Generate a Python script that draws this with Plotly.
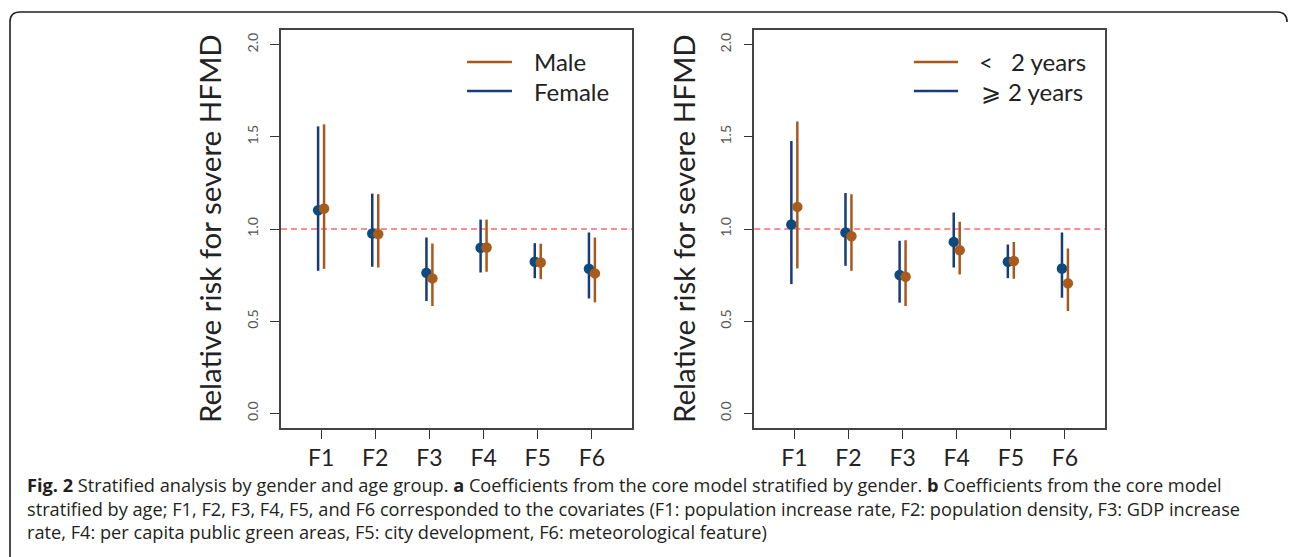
import plotly.graph_objects as go

categories = ["F1", "F2", "F3", "F4", "F5", "F6"]
xpos = [1, 2, 3, 4, 5, 6]

# Panel a: gender
female_rr = [1.102, 0.976, 0.762, 0.898, 0.822, 0.784]
female_lo = [0.773, 0.795, 0.609, 0.764, 0.733, 0.623]
female_hi = [1.557, 1.192, 0.954, 1.051, 0.923, 0.981]
male_rr = [1.111, 0.972, 0.732, 0.900, 0.818, 0.759]
male_lo = [0.784, 0.791, 0.582, 0.768, 0.728, 0.602]
male_hi = [1.568, 1.189, 0.921, 1.051, 0.920, 0.954]

# Panel b: age
old_rr = [1.024, 0.981, 0.750, 0.930, 0.822, 0.786]
old_lo = [0.701, 0.800, 0.600, 0.791, 0.733, 0.627]
old_hi = [1.478, 1.196, 0.936, 1.089, 0.916, 0.981]
young_rr = [1.120, 0.961, 0.741, 0.885, 0.826, 0.705]
young_lo = [0.786, 0.773, 0.582, 0.753, 0.730, 0.555]
young_hi = [1.584, 1.189, 0.939, 1.039, 0.930, 0.894]

y_ticks = [0.0, 0.5, 1.0, 1.5, 2.0]
y_ticklabels = ["0.0", "0.5", "1.0", "1.5", "2.0"]
legend_a = ["Male", "Female"]
legend_b = ["<", "2 years", "\u2a7e", "2 years"]
ytitle = "Relative risk for severe HFMD"
caption = [
    "<b>Fig. 2</b> Stratified analysis by gender and age group. <b>a</b> Coefficients from the core model stratified by gender. <b>b</b> Coefficients from the core model",
    "stratified by age; F1, F2, F3, F4, F5, and F6 corresponded to the covariates (F1: population increase rate, F2: population density, F3: GDP increase",
    "rate, F4: per capita public green areas, F5: city development, F6: meteorological feature)",
]

W, H = 1290, 557
BLUE_L = "#163C7A"
BLUE_P = "#0C4A80"
ORG_L = "#A9581C"
ORG_P = "#A85C1C"
OFF = 0.055
FONT = "Lato"

def px(x):
    return x / W

def py(y):
    return 1 - y / H

fig = go.Figure()

def add_series(rr, lo, hi, off, lc, pc, xa, ya):
    fig.add_trace(go.Scatter(
        x=[v + off for v in xpos], y=rr, mode="markers",
        marker=dict(color=pc, size=10.5, line=dict(width=0)),
        error_y=dict(type="data", symmetric=False,
                     array=[h - r for h, r in zip(hi, rr)],
                     arrayminus=[r - l for r, l in zip(rr, lo)],
                     color=lc, thickness=2.5, width=0),
        xaxis=xa, yaxis=ya, showlegend=False, hoverinfo="skip"))

add_series(female_rr, female_lo, female_hi, -OFF, BLUE_L, BLUE_P, "x", "y")
add_series(male_rr, male_lo, male_hi, OFF, ORG_L, ORG_P, "x", "y")
add_series(old_rr, old_lo, old_hi, -OFF, BLUE_L, BLUE_P, "x2", "y2")
add_series(young_rr, young_lo, young_hi, OFF, ORG_L, ORG_P, "x2", "y2")

dom_a = [px(281), px(632)]
dom_b = [px(754.3), px(1105)]
dom_y = [py(428), py(30)]

xcommon = dict(range=[0.26, 6.74], tickmode="array", tickvals=xpos, ticktext=categories,
               ticks="outside", ticklen=9, tickwidth=1.2, tickcolor="#333",
               showline=True, linecolor="#444", linewidth=1.5, mirror=True,
               showgrid=False, zeroline=False,
               tickfont=dict(family=FONT, size=23, color="#222"), fixedrange=True)
ycommon = dict(range=[-0.08, 2.08], tickmode="array", tickvals=y_ticks, ticktext=y_ticklabels,
               ticks="outside", ticklen=9, tickwidth=1.2, tickcolor="#333",
               showline=True, linecolor="#444", linewidth=1.5, mirror=True,
               showgrid=False, zeroline=False, tickangle=-90, ticklabelstandoff=7,
               tickfont=dict(family=FONT, size=14, color="#555"), fixedrange=True)

fig.update_layout(
    width=W, height=H, margin=dict(l=0, r=0, t=0, b=0),
    paper_bgcolor="white", plot_bgcolor="white",
    xaxis=dict(domain=dom_a, anchor="y", **xcommon),
    yaxis=dict(domain=dom_y, anchor="x", **ycommon),
    xaxis2=dict(domain=dom_b, anchor="y2", **xcommon),
    yaxis2=dict(domain=dom_y, anchor="x2", **ycommon),
)

shapes = []
for xr, yr in [("x domain", "y"), ("x2 domain", "y2")]:
    shapes.append(dict(type="line", xref=xr, yref=yr, x0=0, x1=1, y0=1, y1=1,
                       line=dict(color="#FF6666", width=1.6, dash="6px,4px"), layer="below"))

def leg_line(xr, yr, x0, x1, y, color):
    shapes.append(dict(type="line", xref=xr, yref=yr, x0=x0, x1=x1, y0=y, y1=y,
                       line=dict(color=color, width=2.5)))

ya1 = (428 - 62) / 398
ya2 = (428 - 91) / 398
leg_line("x domain", "y domain", 0.530, 0.658, ya1, ORG_L)
leg_line("x domain", "y domain", 0.530, 0.658, ya2, BLUE_L)
leg_line("x2 domain", "y2 domain", 0.455, 0.581, ya1, ORG_L)
leg_line("x2 domain", "y2 domain", 0.455, 0.581, ya2, BLUE_L)

# frame
x0, x1, yt = px(10), px(1287), py(12)
rx, ry = 10 / W, 10 / H
path = (f"M {x0},-0.1 L {x0},{yt - ry} Q {x0},{yt} {x0 + rx},{yt} "
        f"L {x1 - rx},{yt} Q {x1},{yt} {x1},{yt - ry}")
shapes.append(dict(type="path", xref="paper", yref="paper", path=path,
                   line=dict(color="#222", width=1.6)))
fig.update_layout(shapes=shapes)

ann = []
def leg_text(xr, yr, x, y, t):
    ann.append(dict(xref=xr, yref=yr, x=x, y=y, text=t, showarrow=False,
                    xanchor="left", yanchor="middle",
                    font=dict(family=FONT, size=24, color="#222")))

leg_text("x domain", "y domain", 0.715, ya1, legend_a[0])
leg_text("x domain", "y domain", 0.715, ya2, legend_a[1])
leg_text("x2 domain", "y2 domain", 0.636, ya1, legend_b[0])
leg_text("x2 domain", "y2 domain", 0.726, ya1, legend_b[1])
leg_text("x2 domain", "y2 domain", 0.640, ya2, legend_b[2])
leg_text("x2 domain", "y2 domain", 0.718, ya2, legend_b[3])

for xc in [209, 683]:
    ann.append(dict(xref="paper", yref="paper", x=px(xc), y=py(229), text=ytitle,
                    textangle=-90, showarrow=False, xanchor="center", yanchor="middle",
                    font=dict(family=FONT, size=29.5, color="#222")))

ann.append(dict(xref="paper", yref="paper", x=px(25), y=py(508), text="<br>".join(caption),
                showarrow=False, xanchor="left", yanchor="middle", align="left",
                font=dict(family="Open Sans", size=18.2, color="#231F20")))

fig.update_layout(annotations=ann)
fig.write_html("out.html", config={"displayModeBar": False},
               post_script="document.body.style.margin='0';")
